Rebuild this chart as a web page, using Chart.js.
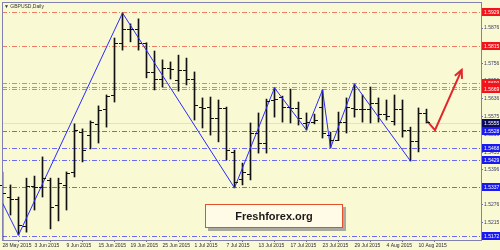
<!DOCTYPE html>
<html>
<head>
<meta charset="utf-8">
<script src="https://cdn.jsdelivr.net/npm/chart.js@4.4.0/dist/chart.umd.min.js"></script>
<style>
  html, body { margin: 0; padding: 0; background: #f9f9d3; }
  #wrap { position: relative; width: 500px; height: 250px; }
  #brand {
    position: absolute; left: 205px; top: 204px; width: 136px; height: 22px;
    background: #fffbe6; border: 1px solid #e2502e; box-shadow: 3px 3px 0 #aaa9a0;
    font: bold 11px "Liberation Sans", Arial, sans-serif; color: #1a1a1a;
    text-align: center; line-height: 22px;
  }
</style>
</head>
<body>
<div id="wrap">
  <canvas id="chart" width="500" height="250"></canvas>
  <div id="brand">Freshforex.org</div>
</div>
<script>
// GBPUSD daily bars, 28 May 2015 .. 11 Aug 2015
const opens  = [1.5344,1.5303,1.5296,1.5205,1.5340,1.5337,1.5361,1.5276,1.5344,1.5388,
                1.5523,1.5513,1.5551,1.5601,1.5649,1.5825,1.5873,1.5873,1.5825,1.5727,
                1.5703,1.5740,1.5700,1.5734,1.5703,1.5608,1.5608,1.5571,1.5605,1.5456,
                1.5364,1.5381,1.5520,1.5486,1.5632,1.5642,1.5608,1.5605,1.5554,1.5557,
                1.5608,1.5513,1.5496,1.5557,1.5605,1.5601,1.5601,1.5622,1.5584,1.5561,
                1.5601,1.5530,1.5493,1.5588];
const highs  = [1.5388,1.5344,1.5303,1.5367,1.5374,1.5439,1.5367,1.5367,1.5388,1.5551,
                1.5534,1.5561,1.5612,1.5649,1.5842,1.5927,1.5890,1.5907,1.5826,1.5798,
                1.5768,1.5761,1.5784,1.5774,1.5727,1.5639,1.5642,1.5632,1.5608,1.5462,
                1.5418,1.5554,1.5588,1.5635,1.5673,1.5645,1.5669,1.5625,1.5588,1.5584,
                1.5666,1.5523,1.5591,1.5639,1.5686,1.5649,1.5676,1.5639,1.5632,1.5649,
                1.5632,1.5540,1.5605,1.5601];
const lows   = [1.5157,1.5242,1.5174,1.5184,1.5259,1.5303,1.5195,1.5222,1.5259,1.5371,
                1.5422,1.5466,1.5486,1.5540,1.5625,1.5801,1.5829,1.5801,1.5707,1.5666,
                1.5676,1.5703,1.5662,1.5683,1.5564,1.5537,1.5513,1.5490,1.5429,1.5334,
                1.5344,1.5361,1.5452,1.5452,1.5574,1.5557,1.5554,1.5547,1.5530,1.5551,
                1.5503,1.5469,1.5494,1.5520,1.5574,1.5557,1.5554,1.5557,1.5564,1.5547,
                1.5506,1.5425,1.5456,1.5554];
const closes = [1.5317,1.5296,1.5208,1.5340,1.5337,1.5367,1.5269,1.5351,1.5384,1.5530,
                1.5462,1.5557,1.5598,1.5645,1.5825,1.5873,1.5871,1.5825,1.5727,1.5703,
                1.5740,1.5738,1.5734,1.5703,1.5615,1.5606,1.5571,1.5605,1.5462,1.5354,
                1.5388,1.5520,1.5486,1.5629,1.5635,1.5608,1.5605,1.5571,1.5557,1.5564,
                1.5520,1.5496,1.5557,1.5608,1.5603,1.5601,1.5622,1.5584,1.5578,1.5601,
                1.5530,1.5493,1.5588,1.5557];

// date labels every 4 bars
const dateTickIdx = [0, 4, 8, 12, 16, 20, 24, 28, 32, 36, 40, 44, 48, 52];
const dateTickLabels = ["28 May 2015", "3 Jun 2015", "9 Jun 2015", "15 Jun 2015", "19 Jun 2015",
  "25 Jun 2015", "1 Jul 2015", "7 Jul 2015", "13 Jul 2015", "17 Jul 2015", "23 Jul 2015",
  "29 Jul 2015", "4 Aug 2015", "10 Aug 2015"];

// price scale labels
const priceTicks = [1.5876, 1.5816, 1.5756, 1.5696, 1.5636, 1.5575, 1.5516, 1.5455,
                    1.5396, 1.5336, 1.5276, 1.5215];

// zigzag
const zigIdx   = [0, 2, 15, 29, 34, 38, 40, 41, 44, 51];
const zigPrice = [1.5283, 1.5174, 1.5927, 1.5334, 1.5673, 1.5530, 1.5666, 1.5469, 1.5686, 1.5425];

// forecast arrow
const arrowIdx   = [53.06, 54.06, 57.4];
const arrowPrice = [1.5561, 1.5530, 1.5734];

// horizontal levels
const redLevels  = [1.5929, 1.5815, 1.5690, 1.5676, 1.5669];
const blueLevels = [1.5528, 1.5468, 1.5429, 1.5337, 1.5172];
const lastPrice = 1.5555;

const BG = "#f9f9d3";

const ohlcPlugin = {
  id: "ohlc",
  beforeDraw(chart) {
    const ctx = chart.ctx;
    ctx.save();
    ctx.fillStyle = BG;
    ctx.fillRect(0, 0, chart.width, chart.height);
    ctx.restore();
  },
  beforeDatasetsDraw(chart) {
    const { ctx, chartArea: a, scales: { y } } = chart;
    ctx.save();
    ctx.lineWidth = 1;
    // current price line
    let cy = Math.round(y.getPixelForValue(lastPrice)) + 0.5;
    ctx.strokeStyle = "#e2e2cc";
    ctx.beginPath(); ctx.moveTo(a.left, cy); ctx.lineTo(a.right, cy); ctx.stroke();

    ctx.setLineDash([5, 2, 1, 2]);
    const hline = (v, col) => {
      const py = Math.round(y.getPixelForValue(v)) + 0.5;
      ctx.strokeStyle = col;
      ctx.beginPath(); ctx.moveTo(a.left, py); ctx.lineTo(a.right, py); ctx.stroke();
    };
    redLevels.forEach(v => hline(v, "#ee7d66"));
    blueLevels.forEach(v => hline(v, "#6b6bf0"));
    ctx.restore();
  },
  afterDatasetsDraw(chart) {
    const { ctx, scales: { x, y } } = chart;
    ctx.save();
    ctx.lineWidth = 1;
    ctx.strokeStyle = "#111";
    for (let i = 0; i < opens.length; i++) {
      const px = Math.floor(x.getPixelForValue(i));
      const oy = Math.round(y.getPixelForValue(opens[i])) + 0.5;
      const cy = Math.round(y.getPixelForValue(closes[i])) + 0.5;
      ctx.beginPath();
      ctx.moveTo(px - 3, oy); ctx.lineTo(px, oy);
      ctx.moveTo(px + 1, cy); ctx.lineTo(px + 4, cy);
      ctx.stroke();
    }
    // arrow head
    const n = arrowIdx.length;
    const tx = x.getPixelForValue(arrowIdx[n - 1]), ty = y.getPixelForValue(arrowPrice[n - 1]);
    const sx = x.getPixelForValue(arrowIdx[n - 2]), sy = y.getPixelForValue(arrowPrice[n - 2]);
    const ang = Math.atan2(ty - sy, tx - sx);
    ctx.strokeStyle = "#e3262a";
    ctx.lineWidth = 2;
    ctx.beginPath();
    ctx.moveTo(tx - 9 * Math.cos(ang - 0.45), ty - 9 * Math.sin(ang - 0.45));
    ctx.lineTo(tx, ty);
    ctx.lineTo(tx - 9 * Math.cos(ang + 0.45), ty - 9 * Math.sin(ang + 0.45));
    ctx.stroke();
    ctx.restore();
  },
  afterDraw(chart) {
    const { ctx, chartArea: a, scales: { y } } = chart;
    ctx.save();
    // frame
    ctx.strokeStyle = "#8080b4";
    ctx.lineWidth = 1;
    ctx.strokeRect(a.left + 0.5, a.top + 0.5, a.right - a.left, a.bottom - a.top);

    // title
    ctx.fillStyle = "#333";
    ctx.font = "5px 'Liberation Sans', sans-serif";
    ctx.textBaseline = "middle";
    ctx.fillText("\u25BC GBPUSD,Daily", 4, 7);

    // level price boxes
    const box = (v, col) => {
      const py = Math.round(y.getPixelForValue(v));
      ctx.fillStyle = col;
      ctx.fillRect(a.right + 1, py - 4, chart.width - a.right - 1, 8);
      ctx.fillStyle = "#fff";
      ctx.fillText(v.toFixed(4), a.right + 3, py + 0.5);
    };
    redLevels.forEach(v => box(v, "#f2141a"));
    blueLevels.forEach(v => box(v, "#1a1af0"));
    box(lastPrice, "#0b0b5c");
    ctx.restore();
  }
};

new Chart(document.getElementById("chart"), {
  type: "bar",
  data: {
    datasets: [
      {
        type: "line",
        data: zigIdx.map((v, i) => ({ x: v, y: zigPrice[i] })),
        borderColor: "#2b2bff",
        borderWidth: 1,
        pointRadius: 0,
        tension: 0,
        order: 0
      },
      {
        type: "line",
        data: arrowIdx.map((v, i) => ({ x: v, y: arrowPrice[i] })),
        borderColor: "#e3262a",
        borderWidth: 2,
        pointRadius: 0,
        tension: 0,
        order: 0
      },
      {
        data: lows.map((l, i) => ({ x: i, y: [l, highs[i]] })),
        backgroundColor: "#111",
        borderWidth: 0,
        barThickness: 1,
        order: 1
      }
    ]
  },
  options: {
    responsive: false,
    animation: false,
    layout: { padding: { left: 2, top: 2, right: 0, bottom: 0 } },
    plugins: { legend: { display: false }, tooltip: { enabled: false } },
    scales: {
      x: {
        type: "linear",
        offset: false,
        min: -0.0625,
        max: 59.8125,
        afterBuildTicks: s => { s.ticks = dateTickIdx.map(v => ({ value: v })); },
        afterFit: s => { s.height = 10; s.paddingLeft = 0; s.paddingRight = 0; },
        grid: { drawOnChartArea: false, tickLength: 2, color: "#6c6cb4" },
        border: { color: "#6c6cb4" },
        ticks: {
          autoSkip: false,
          maxRotation: 0,
          align: "start",
          padding: 1,
          color: "#2a2a3a",
          font: { size: 5, family: "'Liberation Sans', sans-serif" },
          callback: v => {
            const k = dateTickIdx.indexOf(v);
            return k >= 0 ? dateTickLabels[k] : "";
          }
        }
      },
      y: {
        position: "right",
        min: 1.5876 - 212 / 2950,
        max: 1.5876 + 26 / 2950,
        afterBuildTicks: s => { s.ticks = priceTicks.map(v => ({ value: v })); },
        afterFit: s => { s.width = 19; s.paddingTop = 0; s.paddingBottom = 0; },
        grid: { drawOnChartArea: false, tickLength: 2, color: "#6c6cb4" },
        border: { color: "#6c6cb4" },
        ticks: {
          padding: 1,
          color: "#3a3a6a",
          font: { size: 5, family: "'Liberation Sans', sans-serif" },
          callback: v => v.toFixed(4)
        }
      }
    }
  },
  plugins: [ohlcPlugin]
});
</script>
</body>
</html>
